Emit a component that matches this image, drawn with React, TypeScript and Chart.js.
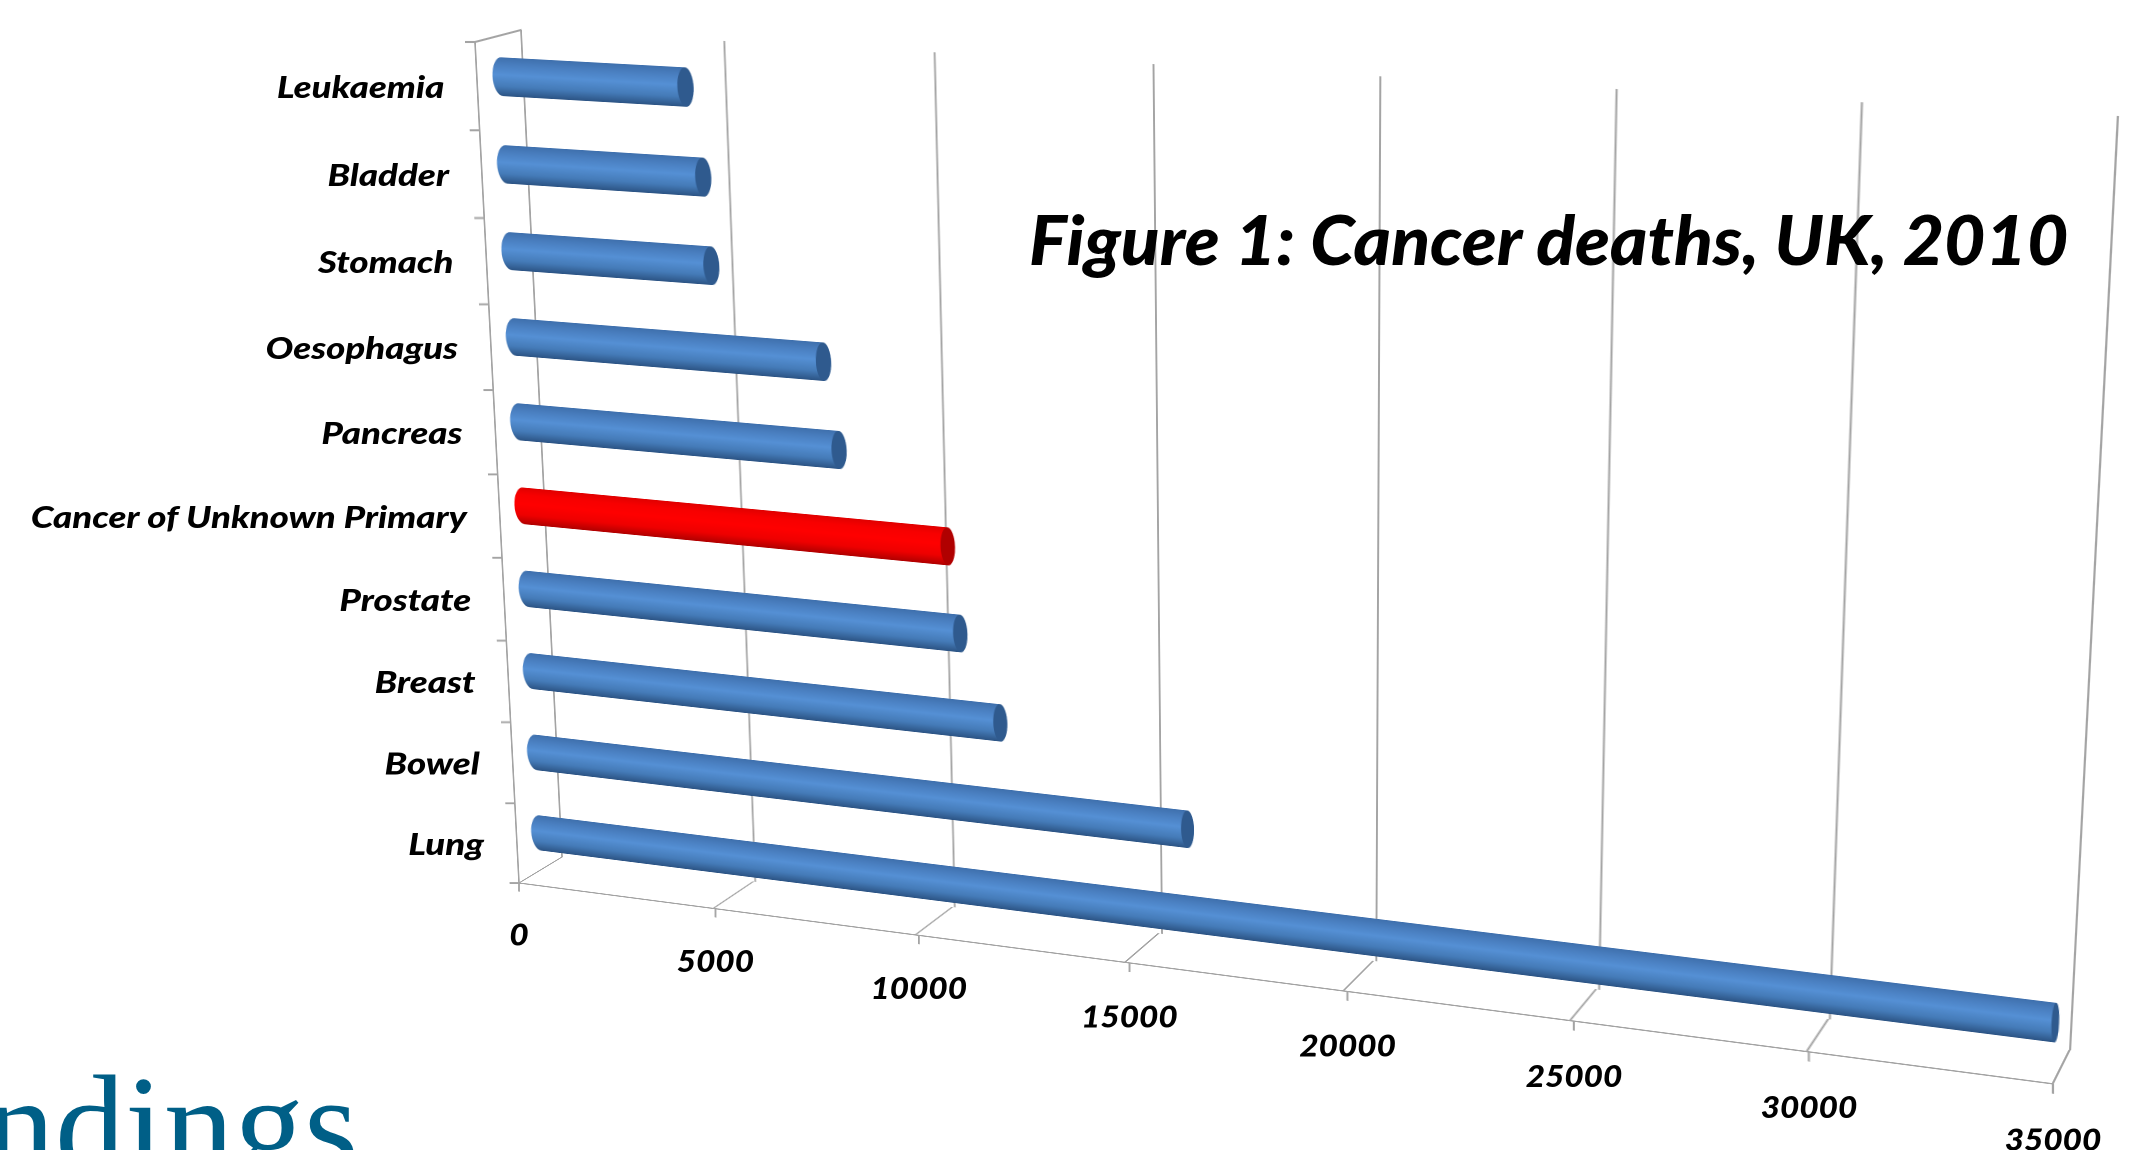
import React, { useEffect, useRef } from "react";
import { Chart, registerables } from "chart.js";

Chart.register(...registerables);

const categories = ["Leukaemia", "Bladder", "Stomach", "Oesophagus", "Pancreas", "Cancer of Unknown Primary", "Prostate", "Breast", "Bowel", "Lung"];
const deaths = [4503, 4850, 4966, 7610, 7921, 10470, 10721, 11633, 16013, 34859];
const highlighted = ["Cancer of Unknown Primary"];
const xTicks = [0, 5000, 10000, 15000, 20000, 25000, 30000, 35000];
const xMax = 35000;
const titleText = "Figure 1: Cancer deaths, UK, 2010";
const footerText = "ndings";

type Pt = [number, number];
type Quad = [Pt, Pt, Pt, Pt]; // TL, TR, BR, BL

const FONT = "Lato, 'Open Sans', sans-serif";
const GRID = "#a4a4a4";
const BAR_T = 44;
const CYLINDER_BASE = -470;

const wallQuad: Quad = [[521, 30], [2118, 116], [2070, 1050], [562, 857]];
const floorQuad: Quad = [[562, 857], [2070, 1050], [2053, 1084], [519, 883]];
const sideQuad: Quad = [[475, 42], [521, 30], [562, 857], [519, 883]];
const yAxisQuad: Quad = [[475, 42], [575, 42], [613.5, 883], [519, 883]];
const xAxisQuad: Quad = [[519, 783], [2053, 970.5], [2053, 1084], [519, 883]];
const barQuad: Quad = [[509, 33], [2112, 117], [2064, 1069], [551, 874]];

function solve(q: Quad) {
  const [[x0, y0], [x1, y1], [x2, y2], [x3, y3]] = q;
  const dx1 = x1 - x2, dx2 = x3 - x2, sx = x0 - x1 + x2 - x3;
  const dy1 = y1 - y2, dy2 = y3 - y2, sy = y0 - y1 + y2 - y3;
  const den = dx1 * dy2 - dx2 * dy1;
  const g = (sx * dy2 - dx2 * sy) / den;
  const h = (dx1 * sy - sx * dy1) / den;
  return { a: x1 - x0 + g * x1, b: x3 - x0 + h * x3, c: x0, d: y1 - y0 + g * y1, e: y3 - y0 + h * y3, f: y0, g, h };
}
function project(q: Quad, u: number, v: number): Pt {
  const m = solve(q);
  const w = m.g * u + m.h * v + 1;
  return [(m.a * u + m.b * v + m.c) / w, (m.d * u + m.e * v + m.f) / w];
}
function cssMatrix(q: Quad, area: { left: number; top: number; width: number; height: number }) {
  const m = solve(q);
  const { left: L, top: T, width: W, height: H } = area;
  const col = (p: number, r: number, s: number) => [p / W, r / H, s - (p * L) / W - (r * T) / H];
  const [m11, m12, m13] = col(m.a, m.b, m.c);
  const [m21, m22, m23] = col(m.d, m.e, m.f);
  const [m31, m32, m33] = col(m.g, m.h, 1);
  return `matrix3d(${m11},${m21},0,${m31},${m12},${m22},0,${m32},0,0,1,0,${m13},${m23},0,${m33})`;
}

const hiddenScale = { display: false };
const xBase = { type: "linear", min: 0, max: xMax, afterBuildTicks: (s: any) => { s.ticks = xTicks.map((value) => ({ value })); }, ticks: { autoSkip: false, callback: (v: any) => String(v) } };
const yBase = { type: "category", labels: categories, offset: true, grid: { offset: true } };

const capRadius = (x: number, w: number) => 10 - 6.5 * (x / w);

const capsPlugin = {
  id: "caps",
  beforeDatasetDraw(chart: any) {
    const ctx = chart.ctx;
    ctx.save();
    ctx.beginPath();
    chart.getDatasetMeta(0).data.forEach((el: any) => {
      const rx = capRadius(el.x, chart.width);
      const lx = 11;
      const h = el.height;
      ctx.rect(el.base + lx, el.y - h / 2, el.x - rx - el.base - lx, h);
      ctx.moveTo(el.base + 2 * lx, el.y);
      ctx.ellipse(el.base + lx, el.y, lx, h / 2, 0, 0, Math.PI * 2);
      ctx.moveTo(el.x, el.y);
      ctx.ellipse(el.x - rx, el.y, rx, h / 2, 0, 0, Math.PI * 2);
    });
    ctx.clip();
  },
  afterDatasetDraw(chart: any) {
    const ctx = chart.ctx;
    ctx.restore();
    chart.getDatasetMeta(0).data.forEach((el: any, i: number) => {
      const rx = capRadius(el.x, chart.width);
      ctx.save();
      ctx.fillStyle = highlighted.includes(categories[i]) ? "#b00000" : "#2f5a8e";
      ctx.beginPath();
      ctx.ellipse(el.x - rx, el.y, rx, el.height / 2, 0, 0, Math.PI * 2);
      ctx.fill();
      ctx.restore();
    });
  },
};

function barFill(c: any) {
  const { chart, dataIndex } = c;
  const red = highlighted.includes(categories[dataIndex]);
  const solid = red ? "#ff0000" : "#4f81bd";
  const y = chart.scales.y ? chart.scales.y.getPixelForValue(dataIndex) : NaN;
  if (!Number.isFinite(y)) return solid;
  const g = chart.ctx.createLinearGradient(0, y - BAR_T / 2, 0, y + BAR_T / 2);
  const stops = red
    ? ["#e00000", "#f80000", "#ff0000", "#ee0000", "#b00000"]
    : ["#3f70ad", "#4a7fc0", "#5590d5", "#457bb8", "#2c5484"];
  [0, 0.2, 0.45, 0.75, 1].forEach((p, i) => g.addColorStop(p, stops[i]));
  return g;
}

function stretched(ctx: any, text: string, x: number, y: number, sx: number) {
  ctx.save();
  ctx.translate(x, y);
  ctx.scale(sx, 1);
  ctx.fillText(text, 0, 0);
  ctx.restore();
}

const labelsPlugin = {
  id: "labels",
  afterDraw(chart: any) {
    const { ctx, chartArea: a } = chart;
    const { x, y } = chart.scales;
    ctx.save();
    ctx.fillStyle = "#000";
    ctx.textBaseline = "middle";
    ctx.font = `italic 900 30px ${FONT}`;
    ctx.textAlign = "right";
    y.ticks.forEach((t: any, i: number) => {
      const v = (y.getPixelForTick(i) - a.top) / a.height;
      const p = project(yAxisQuad, 0, v);
      stretched(ctx, categories[i], p[0] - 33, p[1] + 2, 1.22);
    });
    ctx.textAlign = "center";
    x.ticks.forEach((t: any) => {
      const u = (x.getPixelForValue(t.value) - a.left) / a.width;
      const p = project(xAxisQuad, u, 1);
      stretched(ctx, t.label, p[0], p[1] + 53 + 4 * u, 1.11);
    });
    ctx.restore();
  },
};

const gridX = { color: GRID, lineWidth: 2, drawTicks: false };

const layers: { quad: Quad | null; w: number; h: number; config: any }[] = [
  {
    quad: wallQuad, w: 1620, h: 900,
    config: { type: "bar", data: { labels: categories, datasets: [] }, options: { indexAxis: "y", layout: { padding: 4 }, scales: {
      x: { ...xBase, ticks: { ...xBase.ticks, display: false }, grid: gridX, border: { display: false } }, y: hiddenScale } } },
  },
  {
    quad: floorQuad, w: 1560, h: 60,
    config: { type: "bar", data: { labels: [""], datasets: [] }, options: { indexAxis: "y", layout: { padding: 4 }, scales: {
      x: { ...xBase, ticks: { ...xBase.ticks, display: false }, grid: gridX, border: { display: true, color: GRID, width: 2 } }, y: hiddenScale } } },
  },
  {
    quad: sideQuad, w: 60, h: 860,
    config: { type: "bar", data: { labels: categories, datasets: [] }, options: { indexAxis: "y", layout: { padding: 4 }, scales: {
      x: { type: "linear", position: "top", min: 0, max: 1, ticks: { display: false }, grid: { display: true, drawOnChartArea: false, drawTicks: false }, border: { display: true, color: GRID, width: 2 } }, y: hiddenScale } } },
  },
  {
    quad: yAxisQuad, w: 140, h: 880,
    config: { type: "bar", data: { labels: categories, datasets: [] }, options: { indexAxis: "y", layout: { padding: 4 }, scales: {
      x: hiddenScale,
      y: { ...yBase, ticks: { display: false }, grid: { offset: true, drawOnChartArea: false, drawTicks: true, tickLength: 12, color: GRID, lineWidth: 2 }, border: { display: true, color: GRID, width: 2 } } } } },
  },
  {
    quad: xAxisQuad, w: 1600, h: 160,
    config: { type: "bar", data: { labels: [""], datasets: [] }, options: { indexAxis: "y", layout: { padding: 4 }, scales: {
      x: { ...xBase, ticks: { ...xBase.ticks, display: false, padding: 0 }, grid: { drawOnChartArea: false, drawTicks: true, tickLength: 12, color: GRID, lineWidth: 2 }, border: { display: false } }, y: hiddenScale } } },
  },
  {
    quad: barQuad, w: 1640, h: 1000,
    config: { type: "bar", plugins: [capsPlugin], data: { labels: categories, datasets: [{
      data: deaths, base: CYLINDER_BASE, barThickness: BAR_T, backgroundColor: barFill, borderSkipped: false, borderWidth: 0, clip: false,
    }] }, options: { indexAxis: "y", layout: { padding: { left: 40 } }, scales: { x: { type: "linear", min: 0, max: xMax, display: false }, y: { ...yBase, display: false } } } },
  },
  {
    quad: null, w: 2132, h: 1150,
    config: { type: "bar", plugins: [labelsPlugin], data: { labels: categories, datasets: [] }, options: { indexAxis: "y", scales: { x: { ...xBase, display: false }, y: { ...yBase, display: false } } } },
  },
];

export default function App() {
  const refs = useRef<(HTMLCanvasElement | null)[]>([]);
  useEffect(() => {
    document.body.style.margin = "0";
    document.body.style.overflow = "hidden";
    const charts = layers.map((l, i) => {
      const canvas = refs.current[i]!;
      const opts = { ...l.config.options, responsive: false, animation: false, devicePixelRatio: 2, events: [], plugins: { legend: { display: false }, title: { display: false }, tooltip: { enabled: false } } };
      const chart = new Chart(canvas, { ...l.config, options: opts });
      chart.update();
      canvas.style.position = "absolute";
      canvas.style.left = "0";
      canvas.style.top = "0";
      canvas.style.transformOrigin = "0 0";
      if (l.quad) {
        const a = chart.chartArea;
        canvas.style.transform = cssMatrix(l.quad, { left: a.left, top: a.top, width: a.right - a.left, height: a.bottom - a.top });
      }
      return chart;
    });
    return () => charts.forEach((c) => c.destroy());
  }, []);
  return (
    <div style={{ position: "fixed", left: 0, top: 0, width: 2132, height: 1150, overflow: "hidden", background: "#fff" }}>
      {layers.map((l, i) => (
        <canvas key={i} ref={(el) => { refs.current[i] = el; }} width={l.w} height={l.h} />
      ))}
      <div style={{ position: "absolute", left: 1029, top: 199, fontFamily: FONT, fontStyle: "italic", fontWeight: 900, fontSize: 68, lineHeight: "80px", whiteSpace: "nowrap", color: "#000", transformOrigin: "0 0", transform: "scaleX(1.05)" }}>{titleText}</div>
      <div style={{ position: "absolute", left: -15, top: 1055, fontFamily: "'Liberation Serif', serif", fontSize: 140, lineHeight: "140px", whiteSpace: "nowrap", color: "#005f87" }}>{footerText}</div>
    </div>
  );
}
